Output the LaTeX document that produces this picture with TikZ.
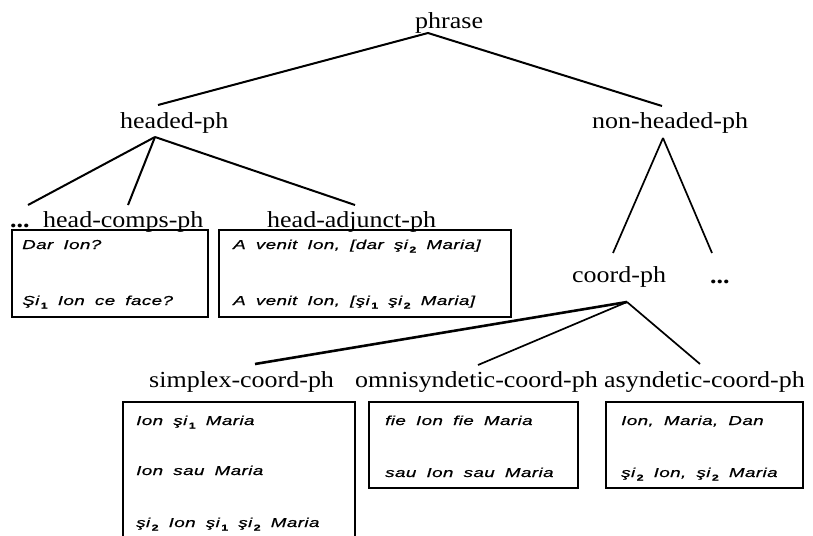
\documentclass[tikz,border=0pt]{standalone}
\usepackage{fontspec}
\setmainfont{Liberation Serif}[FakeStretch=1.13]
\newfontfamily\boxfont{Liberation Sans}[FakeStretch=1.45,LetterSpace=3,WordSpace=1.8,FakeBold=0.6]
\newcommand\lblfont{\fontsize{23}{23}\selectfont}
\newcommand\exfont{\boxfont\itshape\fontsize{13}{13}\selectfont}
\newcommand\sbs[1]{\kern1.5pt\raisebox{-3.5pt}{\upshape\bfseries\fontsize{8.5}{8.5}\selectfont #1}}
\tikzset{
  lbl/.style={anchor=base west, inner sep=0pt, font=\lblfont},
  ex/.style={anchor=base west, inner sep=0pt, font=\exfont},
  branch/.style={line width=2pt},
  thinbranch/.style={line width=1.7pt},
  boxline/.style={line width=1.6pt},
}
\begin{document}
\begin{tikzpicture}[x=1pt,y=-1pt]
\useasboundingbox (0,0) rectangle (813,535);
% labels
\node[lbl] (phrase) at (415,28.3) {phrase};
\node[lbl] (headed) at (120,128) {headed-ph};
\node[lbl] (nonheaded) at (592,128) {non-headed-ph};
\node[lbl] (dotsA) at (10,227) {\textbf{...}};
\node[lbl] (hcomps) at (43,227) {head-comps-ph};
\node[lbl] (hadj) at (267,227) {head-adjunct-ph};
\node[lbl] (coord) at (572,282) {coord-ph};
\node[lbl] (dotsB) at (710,283) {\textbf{...}};
\node[lbl] (simplex) at (149,387) {simplex-coord-ph};
\node[lbl] (omni) at (355,387) {omnisyndetic-coord-ph};
\node[lbl] (asyn) at (604,387) {asyndetic-coord-ph};
% attachment points
\coordinate (phraseB) at (428,33);
\coordinate (headedT) at (158,105);
\coordinate (nonheadedT) at (662,106);
\coordinate (headedB) at (155,137);
\coordinate (dotsAT) at (28,205);
\coordinate (hcompsT) at (128,205);
\coordinate (hadjT) at (355,205);
\coordinate (nonheadedB) at (663,138);
\coordinate (coordT) at (613,253);
\coordinate (dotsBT) at (712,253);
\coordinate (coordB) at (627,302);
\coordinate (simplexT) at (255,364);
\coordinate (omniT) at (478,365);
\coordinate (asynT) at (700,364);
% connectors
\draw[branch] (headedT) -- (phraseB) -- (nonheadedT);
\draw[branch] (headedB) -- (dotsAT);
\draw[branch] (headedB) -- (hcompsT);
\draw[branch] (headedB) -- (hadjT);
\draw[thinbranch] (nonheadedB) -- (coordT);
\draw[thinbranch] (nonheadedB) -- (dotsBT);
\draw[line width=2.6pt] (coordB) -- (simplexT);
\draw[thinbranch] (coordB) -- (omniT);
\draw[thinbranch] (coordB) -- (asynT);
% boxes
\draw[boxline] (12,230) rectangle (208,317);
\draw[boxline] (219,230) rectangle (511,317);
\draw[boxline] (123,545) -- (123,402) -- (355,402) -- (355,545);
\draw[boxline] (369,402) rectangle (578,488);
\draw[boxline] (606,402) rectangle (803,488);
% examples
\node[ex] (e1) at (22,249) {Dar Ion?};
\node[ex] (e2) at (22,305) {Şi\sbs{1} Ion ce face?};
\node[ex] (e3) at (233,249) {A venit Ion, [dar şi\sbs{2} Maria]};
\node[ex] (e4) at (233,305) {A venit Ion, [şi\sbs{1} şi\sbs{2} Maria]};
\node[ex] (e5) at (136,425) {Ion şi\sbs{1} Maria};
\node[ex] (e6) at (136,475) {Ion sau Maria};
\node[ex] (e7) at (136,527) {şi\sbs{2} Ion şi\sbs{1} şi\sbs{2} Maria};
\node[ex] (e8) at (385,425) {fie Ion fie Maria};
\node[ex] (e9) at (385,477) {sau Ion sau Maria};
\node[ex] (e10) at (621,425) {Ion, Maria, Dan};
\node[ex] (e11) at (621,477) {şi\sbs{2} Ion, şi\sbs{2} Maria};
\end{tikzpicture}
\end{document}
